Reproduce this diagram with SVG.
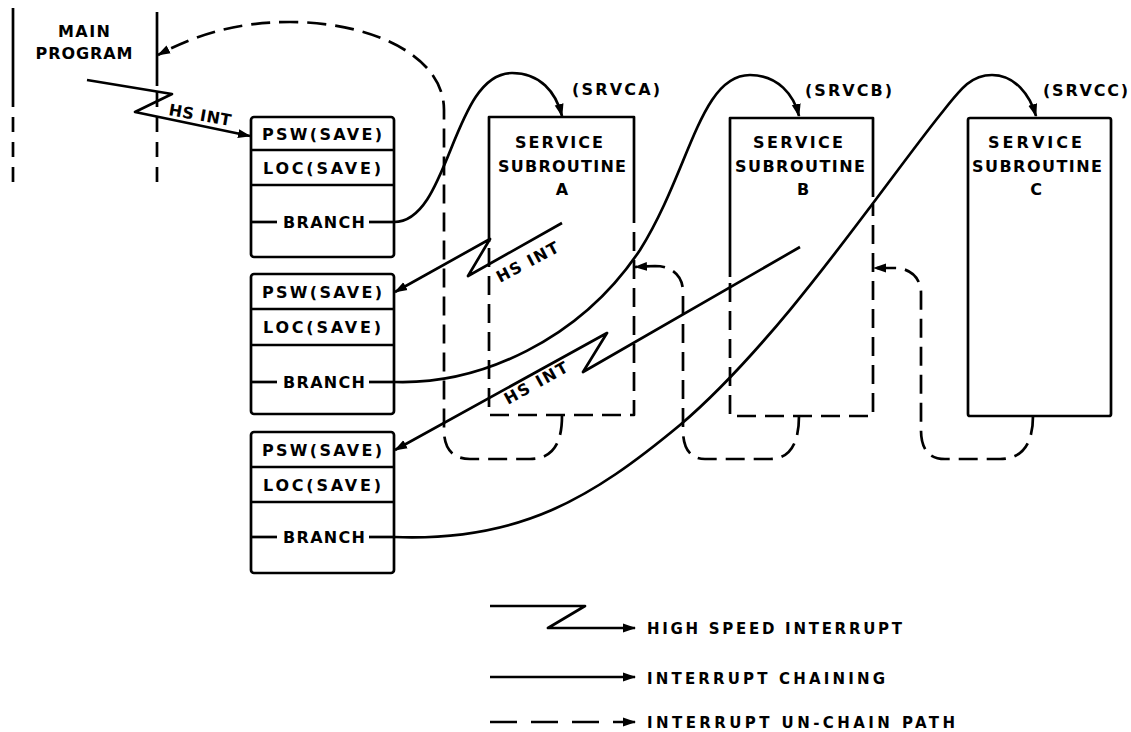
<svg xmlns="http://www.w3.org/2000/svg" width="1131" height="732" viewBox="0 0 1131 732">
<style>
  text { font-family: "DejaVu Sans", "Liberation Sans", Arial, sans-serif; font-weight: bold; font-size: 16px; fill: #000; }
  .lg { font-size: 15px; }
  .ln { fill: none; stroke: #000; stroke-width: 2.7; stroke-linecap: butt; stroke-linejoin: round; }
  .dsh { stroke-dasharray: 19 9; }
  .mdsh { stroke-dasharray: 15 10; }
  .ldsh { stroke-dasharray: 27 14; }
  .box { fill: #fff; stroke: #000; stroke-width: 2.7; }
</style>
<defs>
  <marker id="ah" viewBox="0 0 13 10" refX="12" refY="5" markerWidth="13" markerHeight="10" markerUnits="userSpaceOnUse" orient="auto">
    <path d="M0,0.5 L13,5 L0,9.5 z" fill="#000"/>
  </marker>
</defs>
<rect width="1131" height="732" fill="#fff"/>

<g id="main-program">
  <line class="ln" x1="13" y1="8" x2="13" y2="107"/>
  <line class="ln mdsh" x1="13" y1="117" x2="13" y2="186"/>
  <line class="ln" x1="157" y1="12" x2="157" y2="86"/>
  <line class="ln mdsh" x1="157" y1="92" x2="157" y2="186"/>
  <text x="84" y="37" text-anchor="middle" textLength="52" lengthAdjust="spacing">MAIN</text>
  <text x="84" y="59" text-anchor="middle" textLength="97" lengthAdjust="spacing">PROGRAM</text>
</g>

<g id="stack1">
  <rect class="box" x="251" y="117" width="143" height="140" rx="3"/>
  <line class="ln" x1="251" y1="150" x2="394" y2="150"/>
  <line class="ln" x1="251" y1="185" x2="394" y2="185"/>
  <line class="ln" x1="251" y1="222" x2="277" y2="222"/>
  <line class="ln" x1="369" y1="222" x2="394" y2="222"/>
  <text x="262" y="139.5" textLength="120" lengthAdjust="spacing">PSW(SAVE)</text>
  <text x="263" y="173.5" textLength="118" lengthAdjust="spacing">LOC(SAVE)</text>
  <text x="283" y="228" textLength="82" lengthAdjust="spacing">BRANCH</text>
</g>

<g id="stack2">
  <rect class="box" x="251" y="274" width="143" height="140" rx="3"/>
  <line class="ln" x1="251" y1="309" x2="394" y2="309"/>
  <line class="ln" x1="251" y1="345" x2="394" y2="345"/>
  <line class="ln" x1="251" y1="382" x2="277" y2="382"/>
  <line class="ln" x1="369" y1="382" x2="394" y2="382"/>
  <text x="262" y="297.5" textLength="120" lengthAdjust="spacing">PSW(SAVE)</text>
  <text x="263" y="333" textLength="118" lengthAdjust="spacing">LOC(SAVE)</text>
  <text x="283" y="388" textLength="82" lengthAdjust="spacing">BRANCH</text>
</g>

<g id="stack3">
  <rect class="box" x="251" y="432" width="143" height="141" rx="3"/>
  <line class="ln" x1="251" y1="467" x2="394" y2="467"/>
  <line class="ln" x1="251" y1="502" x2="394" y2="502"/>
  <line class="ln" x1="251" y1="537" x2="277" y2="537"/>
  <line class="ln" x1="369" y1="537" x2="394" y2="537"/>
  <text x="262" y="455.5" textLength="120" lengthAdjust="spacing">PSW(SAVE)</text>
  <text x="263" y="490.5" textLength="118" lengthAdjust="spacing">LOC(SAVE)</text>
  <text x="283" y="543" textLength="82" lengthAdjust="spacing">BRANCH</text>
</g>

<g id="srv-a">
  <path class="ln" d="M489,242 L489,117 L634,117 L634,223"/>
  <path class="ln dsh" d="M489,248 L489,415 L634,415 L634,229"/>
  <text x="515" y="148" textLength="88" lengthAdjust="spacing">SERVICE</text>
  <text x="498" y="172" textLength="128" lengthAdjust="spacing">SUBROUTINE</text>
  <text x="562" y="195" text-anchor="middle">A</text>
  <text x="572" y="95" textLength="88" lengthAdjust="spacing">(SRVCA)</text>
</g>

<g id="srv-b">
  <path class="ln" d="M730,277 L730,118 L873,118 L873,197"/>
  <path class="ln dsh" d="M730,283 L730,416 L873,416 L873,204"/>
  <text x="753" y="148" textLength="90" lengthAdjust="spacing">SERVICE</text>
  <text x="735" y="172" textLength="130" lengthAdjust="spacing">SUBROUTINE</text>
  <text x="803" y="195" text-anchor="middle">B</text>
  <text x="805" y="96" textLength="87" lengthAdjust="spacing">(SRVCB)</text>
</g>

<g id="srv-c">
  <rect class="box" x="968" y="118" width="143" height="298" rx="2" fill="none"/>
  <text x="988" y="148" textLength="94" lengthAdjust="spacing">SERVICE</text>
  <text x="972" y="172" textLength="130" lengthAdjust="spacing">SUBROUTINE</text>
  <text x="1036" y="195" text-anchor="middle">C</text>
  <text x="1043" y="96" textLength="85" lengthAdjust="spacing">(SRVCC)</text>
</g>

<g id="connectors">
  <!-- high speed interrupts -->
  <path class="ln" d="M87,80 L172,94 L135,112 L250,136" marker-end="url(#ah)"/>
  <path class="ln" d="M562,223 L468,276 L490,239 L395,292" marker-end="url(#ah)"/>
  <path class="ln" d="M800,247 L583,372 L607,333 L395,450" marker-end="url(#ah)"/>
  <text transform="translate(168,115) rotate(10)" textLength="63" lengthAdjust="spacing">HS INT</text>
  <text transform="translate(500,283) rotate(-28)" textLength="68" lengthAdjust="spacing">HS INT</text>
  <text transform="translate(508,405) rotate(-29)" textLength="70" lengthAdjust="spacing">HS INT</text>

  <!-- interrupt chaining -->
  <path class="ln" d="M394,222 C450,222 452,73 512,73 C540,73 556,92 562,116" marker-end="url(#ah)"/>
  <path class="ln" d="M394,382 C480,385 580,340 640,250 C690,170 700,75 750,75 C778,75 794,95 799,116" marker-end="url(#ah)"/>
  <path class="ln" d="M394,537 C520,542 592,498 680,425 C780,340 880,190 940,115 C960,90 970,75 992,75 C1015,75 1030,95 1036,116" marker-end="url(#ah)"/>

  <!-- un-chain paths -->
  <path class="ln dsh" d="M562,416 C562,440 555,459 530,459 L470,459 C452,459 444,448 444,430 L444,110 C444,55 370,22 290,22 C230,22 190,38 158,55" marker-end="url(#ah)"/>
  <path class="ln dsh" d="M799,416 C799,440 792,459 770,459 L705,459 C690,459 683,448 683,430 L683,292 C683,276 672,266 655,266 L635,267" marker-end="url(#ah)"/>
  <path class="ln dsh" d="M1033,416 C1033,440 1025,459 1000,459 L945,459 C928,459 921,448 921,430 L921,293 C921,278 910,268 895,268 L874,268" marker-end="url(#ah)"/>
</g>

<g id="legend">
  <path class="ln" d="M490,606 L585,606 L548,628 L635,628" marker-end="url(#ah)"/>
  <line class="ln" x1="490" y1="677" x2="635" y2="677" marker-end="url(#ah)"/>
  <line class="ln ldsh" x1="490" y1="722" x2="635" y2="722" marker-end="url(#ah)"/>
  <text class="lg" x="647" y="634" textLength="255" lengthAdjust="spacing">HIGH SPEED INTERRUPT</text>
  <text class="lg" x="647" y="684" textLength="238" lengthAdjust="spacing">INTERRUPT CHAINING</text>
  <text class="lg" x="647" y="728" textLength="308" lengthAdjust="spacing">INTERRUPT UN-CHAIN PATH</text>
</g>
</svg>
